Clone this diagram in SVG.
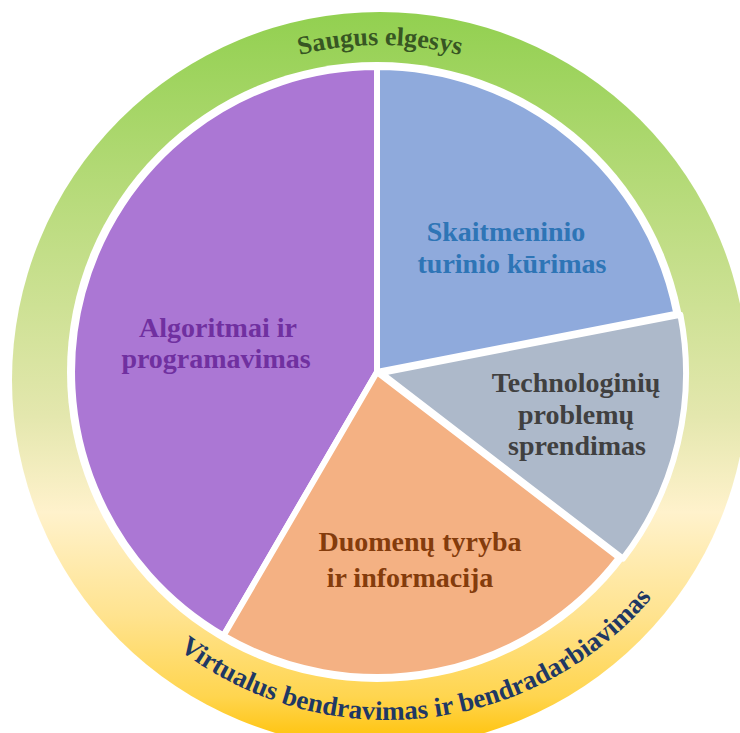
<svg xmlns="http://www.w3.org/2000/svg" width="740" height="733" viewBox="0 0 740 733">
<defs>
<linearGradient id="ringGrad" gradientUnits="userSpaceOnUse" x1="0" y1="12" x2="0" y2="748">
<stop offset="0" stop-color="#92D050"/>
<stop offset="0.35" stop-color="#C6DF8C"/>
<stop offset="0.55" stop-color="#E4E7AE"/>
<stop offset="0.68" stop-color="#FFF2CC"/>
<stop offset="0.82" stop-color="#FFE38F"/>
<stop offset="0.93" stop-color="#FFD54F"/>
<stop offset="1" stop-color="#FFC000"/>
</linearGradient>
<path id="topArc" d="M96.8,208.5 A327,327 0 0 1 663.2,208.5"/>
<path id="bottomArc" d="M165.6,639 A346,346 0 0 0 662.5,584.6"/>
</defs>
<style>
.slice{stroke:#FFFFFF;stroke-width:6;stroke-linejoin:round}
.lbl{font-family:"Liberation Serif","Times New Roman",serif;font-weight:bold;font-size:28px;text-anchor:middle}
.ring{font-family:"Liberation Serif","Times New Roman",serif;font-weight:bold;font-size:26px;text-anchor:middle}
.ringb{font-family:"Liberation Serif","Times New Roman",serif;font-weight:bold;font-size:27px;text-anchor:middle}
</style>
<rect width="740" height="733" fill="#FFFFFF"/>
<g id="ring">
<circle cx="380" cy="380" r="368" fill="url(#ringGrad)"/>
<circle cx="377" cy="372" r="310" fill="#FFFFFF"/>
</g>
<g id="ring-top">
<text class="ring" fill="#375623"><textPath href="#topArc" startOffset="50%">Saugus elgesys</textPath></text>
</g>
<g id="ring-bottom">
<text class="ringb" fill="#1F3864"><textPath href="#bottomArc" startOffset="50%">Virtualus bendravimas ir bendradarbiavimas</textPath></text>
</g>
<g id="slice-algoritmai">
<path class="slice" fill="#AB77D4" d="M377,372 L223.6,635.6 A305,305 0 0 1 377,67 Z"/>
<text class="lbl" fill="#7030A0" x="218" y="337">Algoritmai ir</text>
<text class="lbl" fill="#7030A0" x="216" y="368">programavimas</text>
</g>
<g id="slice-skaitmeninio">
<path class="slice" fill="#8FAADC" d="M377,372 L377,67 A305,305 0 0 1 676.4,313.8 Z"/>
<text class="lbl" fill="#2E75B6" x="506" y="241">Skaitmeninio</text>
<text class="lbl" fill="#2E75B6" x="512" y="273">turinio kūrimas</text>
</g>
<g id="slice-technologiniu">
<path class="slice" fill="#ADB9CA" d="M381,373 L680.4,314.8 A305,305 0 0 1 623,558.7 Z"/>
<text class="lbl" fill="#404040" x="576" y="392">Technologinių</text>
<text class="lbl" fill="#404040" x="576" y="424">problemų</text>
<text class="lbl" fill="#404040" x="577" y="455">sprendimas</text>
</g>
<g id="slice-duomenu">
<path class="slice" fill="#F4B183" d="M377,372 L619,557.7 A305,305 0 0 1 223.6,635.6 Z"/>
<text class="lbl" fill="#843C0C" x="420" y="551">Duomenų tyryba</text>
<text class="lbl" fill="#843C0C" x="410" y="587">ir informacija</text>
</g>
</svg>
